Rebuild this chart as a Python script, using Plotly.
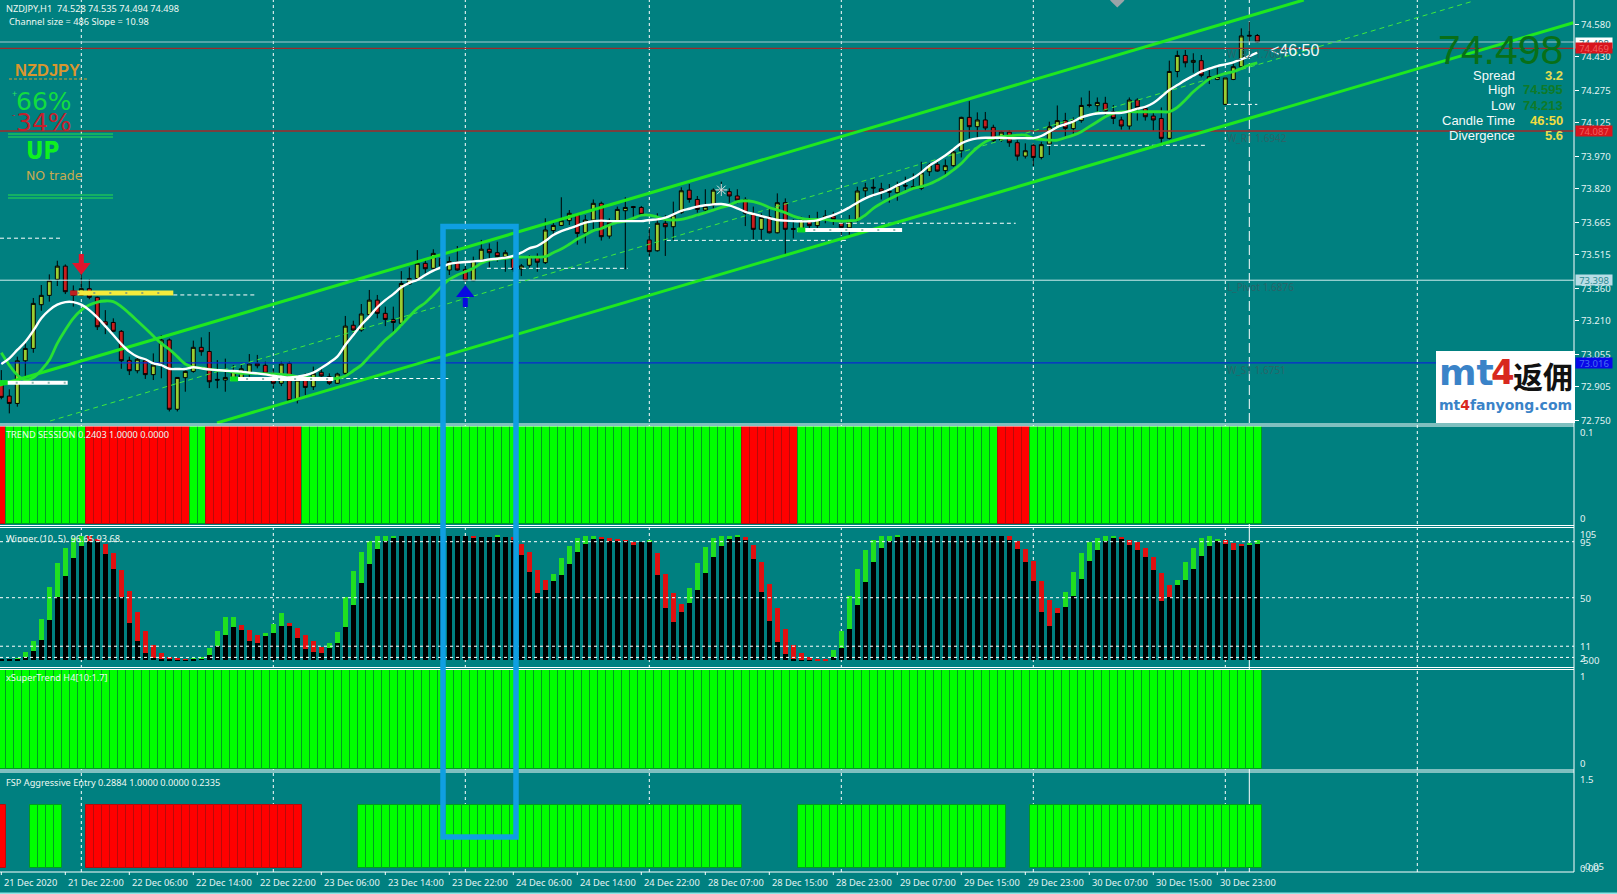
import plotly.graph_objects as go
from plotly.subplots import make_subplots

# ---------- data ----------
open_ = [72.922,72.863,72.829,73.026,73.083,73.285,73.328,73.402,73.463,73.348,
73.328,73.359,73.319,73.206,73.203,73.162,73.028,72.980,73.026,72.962,
73.011,73.122,72.802,72.948,72.977,73.088,73.069,72.940,72.937,72.937,
72.945,72.968,73.014,73.005,72.968,72.922,73.014,72.845,72.945,72.906,
72.973,72.952,72.922,72.968,73.190,73.168,73.239,73.306,73.245,73.217,
73.199,73.380,73.406,73.476,73.453,73.499,73.445,73.482,73.448,73.396,
73.491,73.541,73.525,73.507,73.499,73.450,73.467,73.504,73.479,73.627,
73.651,73.673,73.699,73.617,73.676,73.753,73.602,73.665,73.719,73.738,
73.734,73.584,73.534,73.661,73.645,73.710,73.814,73.771,73.722,73.745,
73.816,73.807,73.787,73.771,73.704,73.633,73.691,73.617,73.756,73.637,
73.630,73.670,73.650,73.684,73.694,73.660,73.640,73.676,73.811,73.827,
73.820,73.808,73.802,73.836,73.830,73.822,73.899,73.933,73.904,73.927,
73.996,74.150,74.107,74.138,74.104,74.045,74.082,74.033,73.971,74.021,
73.965,74.027,74.104,74.135,74.098,74.135,74.208,74.204,74.215,74.176,
74.138,74.110,74.230,74.191,74.156,74.145,74.053,74.362,74.436,74.404,
74.412,74.338,74.325,74.210,74.325,74.384,74.529,74.528]
high = [72.983,72.894,73.045,73.106,73.316,73.376,73.425,73.488,73.471,73.374,
73.427,73.402,73.322,73.260,73.222,73.168,73.045,73.042,73.037,73.060,
73.145,73.129,72.951,72.986,73.119,73.134,73.159,73.029,73.036,73.006,
73.011,73.057,73.053,73.022,72.989,73.022,73.022,72.959,72.968,72.999,
72.999,72.968,72.971,73.233,73.211,73.288,73.353,73.330,73.276,73.276,
73.440,73.457,73.537,73.494,73.541,73.514,73.507,73.556,73.464,73.507,
73.584,73.568,73.576,73.537,73.514,73.473,73.514,73.522,73.684,73.673,
73.781,73.722,73.707,73.699,73.771,73.761,73.684,73.738,73.781,73.741,
73.741,73.638,73.707,73.699,73.761,73.827,73.842,73.787,73.818,73.822,
73.853,73.822,73.818,73.781,73.738,73.707,73.730,73.799,73.776,73.679,
73.691,73.699,73.714,73.722,73.714,73.676,73.699,73.830,73.848,73.864,
73.848,73.842,73.853,73.876,73.891,73.945,73.940,73.953,73.956,74.007,
74.153,74.225,74.173,74.175,74.116,74.088,74.091,74.045,74.030,74.030,
74.037,74.130,74.205,74.171,74.150,74.242,74.273,74.242,74.245,74.207,
74.153,74.242,74.238,74.202,74.176,74.196,74.412,74.458,74.461,74.446,
74.438,74.369,74.379,74.335,74.399,74.561,74.592,74.535]
low = [72.848,72.783,72.814,72.952,73.063,73.257,73.299,73.371,73.334,73.276,
73.325,73.310,73.168,73.149,73.160,72.989,72.960,72.968,72.942,72.937,
72.945,72.792,72.792,72.883,72.971,73.049,72.900,72.899,72.883,72.935,
72.937,72.952,72.991,72.960,72.899,72.909,72.837,72.829,72.868,72.891,
72.952,72.914,72.919,72.960,73.145,73.160,73.222,73.222,73.186,73.156,
73.183,73.376,73.399,73.430,73.448,73.448,73.422,73.442,73.391,73.394,
73.484,73.457,73.484,73.437,73.437,73.417,73.453,73.437,73.473,73.611,
73.648,73.653,73.562,73.568,73.630,73.581,73.590,73.661,73.448,73.691,
73.699,73.510,73.530,73.510,73.584,73.704,73.756,73.710,73.714,73.730,
73.791,73.756,73.753,73.648,73.587,73.584,73.614,73.614,73.514,73.591,
73.622,73.637,73.637,73.661,73.653,73.606,73.606,73.668,73.776,73.783,
73.771,73.756,73.765,73.814,73.817,73.814,73.879,73.899,73.879,73.922,
73.965,74.053,74.053,74.088,74.037,74.037,74.014,73.950,73.960,73.925,
73.956,73.976,74.099,74.061,74.073,74.125,74.196,74.176,74.161,74.119,
74.094,74.094,74.135,74.135,74.088,74.033,74.048,74.335,74.381,74.356,
74.335,74.304,74.322,74.207,74.322,74.381,74.500,74.494]
close = [72.857,72.829,73.026,73.083,73.291,73.328,73.396,73.463,73.345,73.328,
73.359,73.319,73.183,73.191,73.162,73.026,72.980,73.033,72.962,73.006,
73.122,72.802,72.949,72.977,73.088,73.068,72.929,72.937,72.949,72.980,
72.989,73.011,73.003,72.968,72.922,73.011,72.842,72.937,72.903,72.968,
72.956,72.922,72.965,73.186,73.168,73.242,73.306,73.245,73.217,73.203,
73.383,73.406,73.476,73.451,73.522,73.464,73.484,73.445,73.396,73.488,
73.541,73.525,73.507,73.525,73.448,73.464,73.507,73.481,73.630,73.651,
73.673,73.707,73.614,73.676,73.753,73.599,73.665,73.725,73.734,73.734,
73.702,73.530,73.661,73.645,73.699,73.811,73.771,73.725,73.738,73.814,
73.813,73.787,73.768,73.707,73.633,73.688,73.617,73.756,73.633,73.633,
73.676,73.650,73.679,73.694,73.679,73.642,73.671,73.810,73.825,73.824,
73.806,73.805,73.836,73.833,73.827,73.894,73.930,73.902,73.927,73.991,
74.150,74.107,74.138,74.101,74.042,74.082,74.033,73.971,73.996,73.965,
74.024,74.107,74.135,74.099,74.135,74.205,74.205,74.219,74.179,74.145,
74.110,74.230,74.196,74.153,74.138,74.053,74.362,74.436,74.402,74.413,
74.344,74.325,74.339,74.332,74.384,74.526,74.526,74.498]

ma_white = [73.011,73.037,73.076,73.114,73.165,73.222,73.260,73.285,73.297,73.297,
73.285,73.260,73.226,73.186,73.145,73.103,73.068,73.045,73.033,73.014,
73.006,72.989,72.988,72.988,72.996,72.991,72.986,72.983,72.980,72.979,
72.976,72.971,72.968,72.963,72.957,72.952,72.949,72.952,72.959,72.971,
72.993,73.017,73.045,73.099,73.145,73.191,73.230,73.273,73.306,73.334,
73.365,73.386,73.399,73.422,73.442,73.457,73.473,73.479,73.482,73.485,
73.488,73.494,73.497,73.502,73.510,73.525,73.545,73.556,73.579,73.607,
73.625,73.637,73.650,73.664,73.671,73.673,73.671,73.671,73.671,73.671,
73.671,73.676,73.679,73.687,73.702,73.718,73.728,73.738,73.744,73.748,
73.750,73.744,73.730,73.714,73.704,73.694,73.685,73.676,73.673,73.671,
73.670,73.670,73.674,73.687,73.699,73.714,73.734,73.756,73.776,73.791,
73.802,73.817,73.836,73.853,73.871,73.896,73.927,73.950,73.974,74.002,
74.030,74.045,74.053,74.056,74.056,74.056,74.054,74.054,74.054,74.054,
74.064,74.084,74.105,74.118,74.131,74.150,74.161,74.168,74.170,74.170,
74.171,74.179,74.190,74.199,74.216,74.245,74.276,74.299,74.322,74.342,
74.362,74.375,74.387,74.395,74.404,74.418,74.433,74.449]
ma_green = [73.063,73.006,72.960,72.937,72.948,72.983,73.029,73.106,73.168,73.222,
73.260,73.283,73.297,73.302,73.299,73.276,73.245,73.211,73.176,73.140,
73.106,73.079,73.045,73.011,72.996,72.993,72.986,72.983,72.980,72.974,
72.968,72.968,72.968,72.966,72.965,72.963,72.960,72.952,72.949,72.946,
72.945,72.943,72.945,72.956,72.980,73.006,73.045,73.083,73.122,73.153,
73.191,73.230,73.268,73.294,73.330,73.368,73.402,73.422,73.437,73.453,
73.476,73.491,73.496,73.499,73.505,73.505,73.505,73.505,73.507,73.525,
73.542,73.564,73.588,73.607,73.627,73.637,73.653,73.665,73.671,73.684,
73.698,73.699,73.690,73.679,73.676,73.679,73.688,73.699,73.710,73.722,
73.734,73.745,73.761,73.765,73.761,73.750,73.734,73.722,73.710,73.694,
73.684,73.679,73.679,73.679,73.673,73.671,73.673,73.676,73.699,73.730,
73.753,73.773,73.791,73.806,73.822,73.830,73.842,73.860,73.880,73.907,
73.937,73.976,74.010,74.037,74.053,74.061,74.064,74.068,74.068,74.053,
74.048,74.045,74.045,74.056,74.068,74.084,74.107,74.130,74.153,74.168,
74.175,74.176,74.176,74.176,74.176,74.176,74.176,74.196,74.230,74.268,
74.299,74.327,74.341,74.353,74.361,74.376,74.392,74.402]

channel_upper_bars, channel_upper = [-0.2, 162.8], [72.914, 74.692]
channel_lower_bars, channel_lower = [26.96, 196.5], [72.739, 74.587]
channel_mid_bars, channel_mid = [6.1, 183.9], [72.748, 74.686]

price_lines = [(74.498, "#a8c8d0", 1), (74.469, "#a02a2a", 1.3), (74.087, "#a02a2a", 1.3),
               (73.398, "#cfeeee", 1), (73.016, "#0a2ad0", 1.3)]
dash_levels = [(-0.16, 7.7, 73.592), (21.5, 32, 73.33), (30, 56, 72.944), (60.7, 78.3, 73.453),
               (83.2, 105.6, 73.582), (104.7, 126.8, 73.661), (130.7, 150.8, 74.021), (153.2, 157, 74.210)]
white_bands = [(-0.2, 8.3, 72.925), (28.6, 41.5, 72.942), (99.5, 112.6, 73.630)]
green_caps = [(-0.2, 0.8, 72.925), (28.6, 29.6, 72.942), (99.5, 100.5, 73.630)]
yellow_band = (9.5, 21.5, 73.339)
red_cap = (8.6, 9.5, 73.339)
# (bar, stem far end, stem near end, arrow head centre)
arrow_down = (10, 73.519, 73.473, 73.459)
arrow_up = (58, 73.274, 73.316, 73.339)

price_ticks = ["74.580", "74.430", "74.275", "74.125", "73.970", "73.820", "73.665",
               "73.515", "73.360", "73.210", "73.055", "72.905", "72.750"]
date_ticks = ["21 Dec 2020", "21 Dec 22:00", "22 Dec 06:00", "22 Dec 14:00", "22 Dec 22:00",
              "23 Dec 06:00", "23 Dec 14:00", "23 Dec 22:00", "24 Dec 06:00", "24 Dec 14:00",
              "24 Dec 22:00", "28 Dec 07:00", "28 Dec 15:00", "28 Dec 23:00", "29 Dec 07:00",
              "29 Dec 15:00", "29 Dec 23:00", "30 Dec 07:00", "30 Dec 15:00", "30 Dec 23:00"]
separator_bars = [10, 34, 58, 81, 105, 129, 153, 177]
cursor_bar = 156

trend_runs = [("R", 1), ("G", 10), ("R", 13), ("G", 2), ("R", 12), ("G", 55), ("R", 7),
              ("G", 25), ("R", 4), ("G", 29)]
fsp_runs = [("R", 1), ("-", 3), ("G", 4), ("-", 3), ("R", 27), ("-", 7), ("G", 48), ("-", 7),
            ("G", 26), ("-", 3), ("G", 29)]
winner_runs = [("G", 11), ("R", 13), ("G", 6), ("R", 3), ("G", 3), ("R", 5), ("G", 18), ("R", 3),
               ("G", 2), ("R", 5), ("G", 6), ("R", 5), ("G", 2), ("R", 4), ("G", 7), ("R", 11),
               ("G", 22), ("R", 7), ("G", 7), ("R", 7), ("G", 6), ("R", 3), ("G", 2)]
winner_low = [0.5,0.7,1.2,2.9,7.7,16.5,32.6,51,67.9,82.4,
92.1,96,96.1,85.9,73.6,51.3,30.4,15.2,6.3,1.8,
1.5,1.2,0.7,0.4,1.2,1.8,4.5,11.4,20.5,27,
24.8,15.2,14.1,19.7,22.1,27.8,28,18.4,9.5,7.1,
6.3,10.1,14.1,26.7,44.6,62.3,77.6,89.6,96.1,98.8,
100,100,100,100,100,100,100,100,100,98.8,
99,99,99.3,99.3,96.6,84.8,71.2,53.8,56.7,63.9,
68.8,77.6,87.2,93.7,97.7,97.7,96.6,96.6,96.1,92.9,
95,95,68.6,41.8,30.5,38.6,45.8,56.3,70.4,83.2,
92,97.7,99.3,96.9,81.6,55.1,31.8,14.9,5.3,1.5,
0.7,0.1,0.1,0.1,2.9,10.3,24.9,44.6,63.1,79.1,
90.4,96.1,99.3,100,100,100,100,100,100,100,
100,100,100,100,100,100,96.9,89.6,79.1,63.9,
39,27.8,38.2,43,52,65.8,79.5,89.1,95.6,98.8,
97.2,93,88.4,82.7,73,47.5,50.7,60.4,65,73.8,
84,92.2,96.2,93.7,88.9,92,93,93.68]
winner_high = [0.5,0.7,1.8,6.9,15.7,33.1,58.8,78.1,90.5,98.2,
100,100,97.4,93.9,86.4,73,55.9,39,23.7,12.5,
6.3,2.9,1.2,0.7,1.8,2.6,10.3,23.7,35,34.5,
28.6,24.8,20.5,22.1,29.4,38.2,29.9,26.2,20.5,15.2,
10.9,14.1,22.9,50.8,72,87.2,95.8,100,100,100,
100,100,100,100,100,100,100,100,100,100.3,
99,99,100,99.3,98.8,93.9,87.2,73,64.7,69.6,
82.4,92.1,98.7,100,100,98.5,98,97.1,96.6,95.3,
95,96.8,86,69.6,53.9,45.3,57.9,78,91.3,98.5,
100,100,100,99.3,92.9,79.1,61.5,42.2,25.4,12.5,
5.8,2.4,1.2,0.7,8.5,23.7,51.6,73.6,88.9,96.9,
100,100,100,100,100,100,100,100,100,100,
100,100,100,100,100,100,99.6,95.8,89.6,79.9,
63.9,48.7,42.2,55.1,71.2,86.5,95.3,98.5,100,100,
99,97,95.5,90,82.7,70,61,65,78.7,90,
98.5,100,97.7,97.1,94.4,93,94.5,96.65]
winner_levels = [95, 50, 11, 2]

panel_titles = [("NZDJPY,H1  74.528 74.535 74.494 74.498", 5, 8),
                ("Channel size = 486 Slope = 10.98", 8, 21),
                ("TREND SESSION 0.2403 1.0000 0.0000", 5, 434),
                ("Winner (10, 5)  96.65 93.68", 5, 538),
                ("xSuperTrend H4[10:1.7]", 5, 677),
                ("FSP Aggressive Entry 0.2884 1.0000 0.0000 0.2335", 5, 782)]
info_rows = [("Spread", "3.2", "#e6dc50"), ("High", "74.595", "#0f7a28"), ("Low", "74.213", "#0f7a28"),
             ("Candle Time", "46:50", "#f0dc40"), ("Divergence", "5.6", "#e6dc50")]
pivots = [("W_R2 1.7007", 54), ("W_R1 1.6942", 138), ("L_Pivot 1.6876", 287), ("W_S1 1.6751", 370)]
side_ticks = [("0.1", 432), ("0", 518), ("105", 534), ("95", 542), ("50", 598), ("11", 646.5),
              ("2", 658), ("-500", 660), ("1", 676), ("0", 763.5), ("1.5", 779),
              ("-0.05", 866), ("0.00", 868)]
price_tags = [("74.498", 42.5, "#ffffff", "#2a6a70"), ("74.469", 48, "#d8141c", "#f06060"),
              ("74.087", 131, "#d8141c", "#f06060"), ("73.398", 279.5, "#b8dde6", "#2a8a90"),
              ("73.016", 363, "#0808e8", "#4a70f0")]

# ---------- canvas helpers ----------
W, H = 1617, 894
AXIS_X = 1574
TEAL = "#008080"
px = lambda x: x / W
py = lambda y: 1 - y / H
bar_of_px = lambda x: (x - 1.3) / 8
expand = lambda runs: [s for s, n in runs for _ in range(n)]
bars = list(range(len(close)))
assert all(len(a) == 158 for a in [open_, high, low, close, ma_white, ma_green, winner_low, winner_high,
                                   expand(trend_runs), expand(fsp_runs), expand(winner_runs)])

fig = make_subplots(rows=5, cols=1, shared_xaxes=True, vertical_spacing=0)

fig.add_trace(go.Candlestick(x=bars, open=open_, high=high, low=low, close=close,
    increasing=dict(line=dict(color="#000000", width=1), fillcolor="#9ACD32"),
    decreasing=dict(line=dict(color="#000000", width=1), fillcolor="#C81E1E"),
    whiskerwidth=0, showlegend=False), row=1, col=1)
for p, c, w in price_lines:
    fig.add_trace(go.Scatter(x=[bar_of_px(0), bar_of_px(AXIS_X)], y=[p, p], mode="lines",
                             line=dict(color=c, width=w)), row=1, col=1)
for a, b, p in dash_levels:
    fig.add_trace(go.Scatter(x=[a, b], y=[p, p], mode="lines",
                             line=dict(color="#ffffff", width=1, dash="4px,3px")), row=1, col=1)
fig.add_trace(go.Scatter(x=channel_mid_bars, y=channel_mid, mode="lines",
                         line=dict(color="#3ee83e", width=1, dash="5px,4px")), row=1, col=1)
fig.add_trace(go.Scatter(x=channel_upper_bars, y=channel_upper, mode="lines",
                         line=dict(color="#1fe81f", width=3)), row=1, col=1)
fig.add_trace(go.Scatter(x=channel_lower_bars, y=channel_lower, mode="lines",
                         line=dict(color="#1fe81f", width=3)), row=1, col=1)
fig.add_trace(go.Scatter(x=bars, y=ma_green, mode="lines",
                         line=dict(color="#28e034", width=2.8, shape="spline")), row=1, col=1)
fig.add_trace(go.Scatter(x=bars, y=ma_white, mode="lines",
                         line=dict(color="#ffffff", width=2.4, shape="spline")), row=1, col=1)
for a, b, p in white_bands:
    fig.add_trace(go.Scatter(x=[a, b], y=[p, p], mode="lines", line=dict(color="#ffffff", width=4)), row=1, col=1)
    fig.add_trace(go.Scatter(x=[a, b], y=[p, p], mode="lines",
                             line=dict(color="#90b8b0", width=2, dash="2px,14px")), row=1, col=1)
for a, b, p in green_caps:
    fig.add_trace(go.Scatter(x=[a, b], y=[p, p], mode="lines", line=dict(color="#10e020", width=5)), row=1, col=1)
fig.add_trace(go.Scatter(x=list(yellow_band[:2]), y=[yellow_band[2]] * 2, mode="lines",
                         line=dict(color="#f4ec3c", width=5)), row=1, col=1)
fig.add_trace(go.Scatter(x=list(yellow_band[:2]), y=[yellow_band[2]] * 2, mode="lines",
                         line=dict(color="#90a870", width=2, dash="2px,14px")), row=1, col=1)
fig.add_trace(go.Scatter(x=list(red_cap[:2]), y=[red_cap[2]] * 2, mode="lines",
                         line=dict(color="#c02020", width=5)), row=1, col=1)
for (b, far, near, head), c, sym in ((arrow_down, "#e0142c", "triangle-down"), (arrow_up, "#0808e0", "triangle-up")):
    fig.add_trace(go.Scatter(x=[b, b], y=[far, near], mode="lines", line=dict(color=c, width=5)), row=1, col=1)
    fig.add_trace(go.Scatter(x=[b], y=[head], mode="markers",
                             marker=dict(symbol=sym, size=16, color=c, line=dict(width=0))), row=1, col=1)
fig.add_trace(go.Scatter(x=[90], y=[73.815], mode="markers",
                         marker=dict(symbol="asterisk-open", size=10, color="#d8e8e8", line=dict(width=1, color="#d8e8e8"))), row=1, col=1)
fig.add_trace(go.Scatter(x=[139.5], y=[74.69], mode="markers",
                         marker=dict(symbol="diamond", size=11, color="#9aa4a8", line=dict(width=0))), row=1, col=1)

COL = {"G": "#00ff00", "R": "#ff0000"}
SEP = {"G": "#009c20", "R": "#b80a0a"}
OFFS = -0.44
trend = expand(trend_runs)
fig.add_trace(go.Bar(x=bars, y=[1] * 158, width=1, offset=OFFS,
                     marker=dict(color=[COL[s] for s in trend], line=dict(width=1, color=[SEP[s] for s in trend]))), row=2, col=1)
fig.add_trace(go.Bar(x=bars, y=winner_low, width=0.66, marker=dict(color="#000000", line=dict(width=0))), row=3, col=1)
WC = {"G": "#20e020", "R": "#e01010"}
fig.add_trace(go.Bar(x=bars, y=[h - l for h, l in zip(winner_high, winner_low)], base=winner_low, width=0.66,
                     marker=dict(color=[WC[s] for s in expand(winner_runs)], line=dict(width=0))), row=3, col=1)
fig.add_trace(go.Bar(x=bars, y=[1] * 158, width=1, offset=OFFS,
                     marker=dict(color="#00ff00", line=dict(width=1, color=SEP["G"]))), row=4, col=1)
fsp = expand(fsp_runs)
fig.add_trace(go.Bar(x=bars, y=[1 if s != "-" else None for s in fsp], width=1, offset=OFFS,
                     marker=dict(color=[COL.get(s, TEAL) for s in fsp],
                                 line=dict(width=1, color=[SEP.get(s, TEAL) for s in fsp]))), row=5, col=1)

x_range = [bar_of_px(0), bar_of_px(AXIS_X)]
for i in range(1, 6):
    fig.update_layout({f"xaxis{i if i > 1 else ''}": dict(range=x_range, domain=[0, AXIS_X / W], showgrid=False,
                       zeroline=False, showticklabels=False, ticks="", rangeslider=dict(visible=False))})
fig.update_layout(
    yaxis=dict(domain=[py(424), 1], range=[72.734, 74.692], side="right", showgrid=False, zeroline=False,
               tickvals=[float(t) for t in price_ticks], ticktext=price_ticks, ticks="outside", ticklen=4,
               tickcolor="#ffffff", tickfont=dict(family="Noto Sans", size=9.5, color="#e4f4f4")),
    yaxis2=dict(domain=[py(525), py(426)], range=[-0.0102, 1], showgrid=False, zeroline=False, showticklabels=False),
    yaxis3=dict(domain=[py(667), py(527.5)], range=[-5.7, 106.4], showgrid=False, zeroline=False, showticklabels=False),
    yaxis4=dict(domain=[py(769.5), py(669)], range=[-0.005, 1], showgrid=False, zeroline=False, showticklabels=False),
    yaxis5=dict(domain=[py(872), py(772)], range=[-0.063, 1.517], showgrid=False, zeroline=False, showticklabels=False),
)

shapes = []
for b in separator_bars:
    shapes.append(dict(type="line", xref="x", yref="paper", x0=b, x1=b, y0=py(872), y1=1, layer="below",
                       line=dict(color="#ffffff", width=1, dash="3px,3px")))
shapes.append(dict(type="line", xref="x", yref="paper", x0=cursor_bar, x1=cursor_bar, y0=py(423), y1=1, layer="below",
                   line=dict(color="#ffffff", width=1, dash="10px,4px")))
shapes.append(dict(type="line", xref="x", yref="paper", x0=cursor_bar, x1=cursor_bar, y0=py(872), y1=py(426), layer="below",
                   line=dict(color="#ffffff", width=1)))
for lv in winner_levels:
    shapes.append(dict(type="line", xref="paper", yref="y3", x0=0, x1=px(AXIS_X), y0=lv, y1=lv,
                       line=dict(color="#ffffff", width=1, dash="3px,3px")))
for y in [424, 426, 525.5, 527.5, 667.5, 669.5, 770, 772, 872]:
    shapes.append(dict(type="line", xref="paper", yref="paper", x0=0, x1=px(AXIS_X), y0=py(y), y1=py(y),
                       line=dict(color="#ffffff", width=1)))
shapes.append(dict(type="line", xref="paper", yref="paper", x0=px(AXIS_X), x1=px(AXIS_X), y0=py(872), y1=1,
                   line=dict(color="#ffffff", width=1)))
for k in range(len(date_ticks)):
    shapes.append(dict(type="line", xref="x", yref="paper", x0=8 * k, x1=8 * k, y0=py(872), y1=py(875),
                       line=dict(color="#ffffff", width=1)))
for y in [134, 137, 195, 198]:
    shapes.append(dict(type="line", xref="paper", yref="paper", x0=px(8), x1=px(113), y0=py(y), y1=py(y),
                       line=dict(color="#28e048", width=1)))
shapes.append(dict(type="line", xref="paper", yref="paper", x0=px(9), x1=px(88), y0=py(79), y1=py(79),
                   line=dict(color="#d89a30", width=1, dash="3px,2px")))
shapes.append(dict(type="rect", xref="paper", yref="paper", x0=px(1436), x1=px(1575), y0=py(423), y1=py(351),
                   fillcolor="#ffffff", line=dict(width=0)))
shapes.append(dict(type="rect", xref="paper", yref="paper", x0=px(443), x1=px(516), y0=py(837), y1=py(226.5),
                   fillcolor="rgba(0,0,0,0)", line=dict(color="#0f9fe2", width=5.5)))
shapes.append(dict(type="rect", xref="paper", yref="paper", x0=0, x1=1, y0=0, y1=py(892.5),
                   fillcolor="#8fe6e6", line=dict(width=0)))
fig.update_layout(shapes=shapes)

ann = []
def text(s, x, y, size=10, color="#ffffff", anchor="left", family="Noto Sans", **kw):
    ann.append(dict(text=s, xref="paper", yref="paper", x=px(x), y=py(y), xanchor=anchor, yanchor="middle",
                    showarrow=False, font=dict(size=size, color=color, family=family), borderpad=0, **kw))

for t, x, y in panel_titles:
    text(t, x, y, size=9.2, color="#eef8f2")
text("<b>NZDJPY</b>", 14, 70, size=16.5, color="#d9962f", family="Liberation Sans")
text("+", 11, 93, size=9, color="#2fe060")
text("66%", 15, 102, size=25, color="#12dc40", family="DejaVu Sans")
text("-", 11, 114, size=9, color="#c02030")
text("34%", 15, 122, size=25, color="#c4202c", family="DejaVu Sans")
text("<b>UP</b>", 25, 151, size=24, color="#10f020", family="DejaVu Sans Condensed, DejaVu Sans")
text("NO trade", 25, 175, size=12.5, color="#c8aa50", family="DejaVu Sans")
text("&lt;46:50", 1269, 51, size=16, color="#f0f8f8", family="Liberation Sans")
text("74.498", 1564, 50, size=41, color="#086f18", anchor="right", family="Liberation Sans")
for k, (lab, val, col) in enumerate(info_rows):
    y = 75 + 15 * k
    text(lab, 1516, y, size=13, color="#f4fafa", anchor="right", family="Liberation Sans")
    text(f"<b>{val}</b>", 1564, y, size=13, color=col, anchor="right", family="Liberation Sans")
for s, y in pivots:
    text(s, 1226, y, size=10, color="#2a6468")
for s, y in side_ticks:
    text(s, 1581 if s == "-0.05" else 1579, y, size=9.5, color="#e4f4f4")
for s, y, bg, fg in price_tags:
    ann.append(dict(text=s, xref="paper", yref="paper", x=px(1594), y=py(y), xanchor="center", yanchor="middle",
                    width=36, height=10, showarrow=False, bgcolor=bg, borderpad=0,
                    font=dict(size=9.5, color=fg, family="Noto Sans")))
for k, s in enumerate(date_ticks):
    ann.append(dict(text=s, xref="x5", yref="paper", x=8 * k, y=py(882), xanchor="left", yanchor="middle",
                    xshift=1, showarrow=False, font=dict(size=9.3, color="#e4f4f4", family="Noto Sans")))
text("<b>mt</b>", 1438, 372, size=36, color="#3a83c8", family="DejaVu Sans")
text("<b>4</b>", 1490, 372, size=34, color="#d8281e", family="DejaVu Sans")
text("<b>返佣</b>", 1512, 375, size=30, color="#111111", family="Noto Sans CJK SC")
text('<b><span style="color:#3a83c8">mt</span><span style="color:#d8281e">4</span>'
     '<span style="color:#3a83c8">fanyong.com</span></b>', 1438, 405, size=14, family="DejaVu Sans")

fig.update_layout(annotations=ann, width=W, height=H, autosize=False,
                  margin=dict(l=0, r=0, t=0, b=0, pad=0, autoexpand=False),
                  paper_bgcolor=TEAL, plot_bgcolor="rgba(0,0,0,0)", showlegend=False, barmode="overlay",
                  bargap=0, hovermode=False)

fig.write_html("out.html", config={"displayModeBar": False},
               post_script="document.body.style.margin='0';document.documentElement.style.overflow='hidden';")
